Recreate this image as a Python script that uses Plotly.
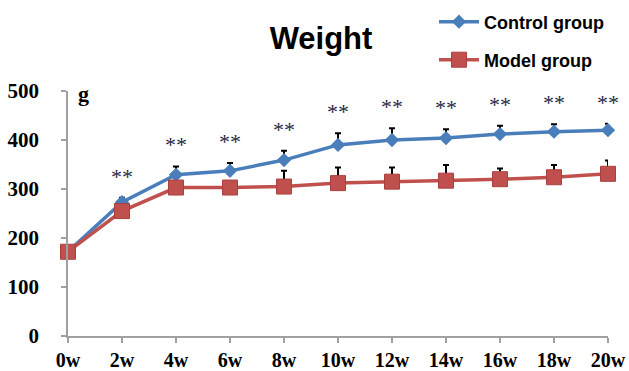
import plotly.graph_objects as go

# Body weight (g) over 20 weeks
weeks = ["0w", "2w", "4w", "6w", "8w", "10w", "12w", "14w", "16w", "18w", "20w"]
control_mean = [172, 273, 329, 337, 359, 390, 400, 404, 412, 417, 420]
control_err = [0, 9, 17, 16, 19, 24, 24, 18, 17, 15, 13]
model_mean = [172, 255, 303, 303, 305, 312, 315, 317, 320, 324, 331]
model_err = [0, 0, 6, 6, 32, 32, 29, 32, 22, 25, 27]
significance = ["", "**", "**", "**", "**", "**", "**", "**", "**", "**", "**"]

BLUE = "#4a7ebb"
RED = "#c0504d"
AXIS = "#a0a0a0"

W, H = 629, 371
L, R, T, B = 68, 21, 91, 35
pw, ph = W - L - R, H - T - B


def px_x(p):
    return (p - L) / pw


def px_y(p):
    return (H - B - p) / ph


fig = go.Figure()

fig.add_trace(go.Scatter(
    x=weeks, y=control_mean, name="Control group", mode="lines+markers",
    line=dict(color=BLUE, width=3.5),
    marker=dict(symbol="diamond", size=11, color=BLUE),
    error_y=dict(type="data", array=control_err, arrayminus=[0] * len(weeks),
                 symmetric=False, color="black", thickness=2, width=3),
    cliponaxis=False, legend="legend",
))

fig.add_trace(go.Scatter(
    x=weeks, y=model_mean, name="Model group", mode="lines+markers",
    line=dict(color=RED, width=3.5),
    marker=dict(symbol="square", size=15, color=RED,
                line=dict(color="#a8403d", width=1)),
    error_y=dict(type="data", array=model_err, arrayminus=[0] * len(weeks),
                 symmetric=False, color="black", thickness=2, width=3),
    cliponaxis=False, legend="legend2",
))

# significance marks above the control error bars
for wk, m, e, s in zip(weeks, control_mean, control_err, significance):
    if s:
        fig.add_annotation(
            x=wk, y=m + e, text=s, showarrow=False, yanchor="bottom", yshift=7,
            font=dict(family="Liberation Serif", size=22, color="#1f2a44"),
        )

# unit label
fig.add_annotation(
    xref="paper", yref="paper", x=px_x(83), y=px_y(93), text="<b>g</b>",
    showarrow=False, xanchor="center", yanchor="middle",
    font=dict(family="Liberation Serif", size=22, color="black"),
)

legend_common = dict(
    xanchor="left", yanchor="middle", bgcolor="rgba(0,0,0,0)", borderwidth=0,
    font=dict(family="Liberation Sans", size=18, color="black", weight="bold"),
    itemwidth=40,
)

fig.update_layout(
    width=W, height=H,
    margin=dict(l=L, r=R, t=T, b=B, autoexpand=False),
    paper_bgcolor="white", plot_bgcolor="white",
    title=dict(
        text="<b>Weight</b>", x=321 / W, y=1 - 38 / H, xanchor="center", yanchor="middle",
        font=dict(family="Liberation Sans", size=31, color="black"),
    ),
    legend=dict(x=px_x(434), y=px_y(22), **legend_common),
    legend2=dict(x=px_x(434), y=px_y(60), **legend_common),
    xaxis=dict(
        type="category", range=[0, len(weeks) - 1], automargin=False,
        showline=True, linecolor=AXIS, linewidth=1.5,
        ticks="outside", ticklen=5, tickcolor=AXIS, tickwidth=1.5,
        showgrid=False, zeroline=False, ticklabelstandoff=0,
        tickfont=dict(family="Liberation Serif", size=20, color="black", weight="bold"),
    ),
    yaxis=dict(
        range=[0, 500], tickvals=[0, 100, 200, 300, 400, 500], automargin=False,
        showline=True, linecolor=AXIS, linewidth=1.5,
        ticks="outside", ticklen=5, tickcolor=AXIS, tickwidth=1.5,
        showgrid=False, zeroline=False, ticklabelstandoff=18,
        tickfont=dict(family="Liberation Serif", size=21, color="black", weight="bold"),
    ),
    showlegend=True,
)

fig.write_html("out.html")
